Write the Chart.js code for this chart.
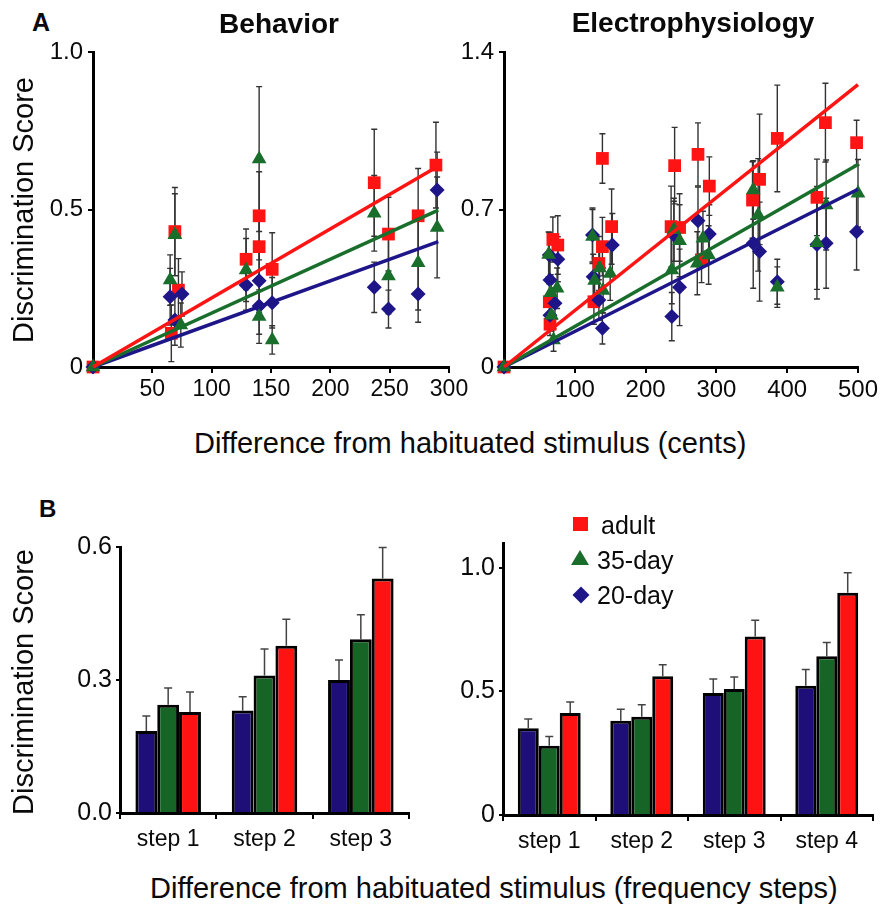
<!DOCTYPE html>
<html>
<head>
<meta charset="utf-8">
<script src="https://cdn.jsdelivr.net/npm/chart.js"></script>
<style>
body { margin: 0; background: #fff; width: 880px; height: 905px; position: relative; overflow: hidden; font-family: "Liberation Sans", Arial, sans-serif; color: #0a0a0a; }
.box { position: absolute; }
.txt { position: absolute; white-space: nowrap; }
</style>
</head>
<body>
<script>
// behaviour panel: [cents, score, sem]
const behAdult = [[0,0,0],[66,0.107,0.09],[69,0.43,0.14],[72,0.244,0.1],[129,0.342,0.096],[140,0.48,0.14],[140,0.382,0.1],[151,0.31,0.116],[237,0.585,0.17],[249,0.422,0.117],[274,0.48,0.15],[289,0.641,0.136]]
const beh35 = [[0,0,0],[65,0.276,0.08],[69,0.42,0.13],[74,0.133,0.07],[129,0.308,0.1],[140,0.66,0.23],[140,0.16,0.085],[151,0.086,0.045],[237,0.488,0.12],[249,0.289,0.12],[274,0.331,0.15],[290,0.443,0.16]]
const beh20 = [[0,0,0],[65,0.223,0.09],[69,0.149,0.08],[75,0.232,0.07],[129,0.26,0.08],[140,0.274,0.1],[140,0.194,0.09],[151,0.204,0.08],[237,0.253,0.08],[249,0.184,0.06],[274,0.232,0.09],[290,0.562,0.12]]
const behFitAdult = [[0,0],[290,0.636]]
const behFit35 = [[0,0],[291,0.498]]
const behFit20 = [[0,0],[291,0.398]]

// electrophysiology panel
const elecAdult = [[0,0,0],[65,0.19,0.05],[64,0.29,0.08],[69,0.567,0.1],[76,0.542,0.13],[127,0.29,0.1],[134,0.46,0.12],[139,0.927,0.11],[139,0.535,0.13],[152,0.624,0.167],[236,0.624,0.18],[241,0.895,0.17],[248,0.62,0.15],[274,0.945,0.14],[279,0.475,0.1],[290,0.804,0.13],[351,0.742,0.17],[361,0.834,0.29],[386,1.016,0.237],[442,0.754,0.17],[454,1.086,0.175],[498,0.997,0.1]]
const elec35 = [[0,0,0],[63,0.5,0.1],[66,0.33,0.08],[67,0.23,0.07],[70,0.12,0.05],[75,0.35,0.09],[125,0.58,0.12],[128,0.385,0.1],[135,0.44,0.11],[140,0.34,0.1],[150,0.416,0.12],[237,0.431,0.15],[240,0.61,0.14],[248,0.561,0.16],[273,0.461,0.14],[281,0.572,0.12],[289,0.498,0.13],[352,0.787,0.13],[359,0.676,0.25],[386,0.355,0.09],[442,0.552,0.25],[455,0.72,0.2],[500,0.772,0.15]]
const elec20 = [[0,0,0],[64,0.498,0.1],[65,0.387,0.09],[65,0.23,0.06],[72,0.283,0.07],[76,0.479,0.1],[125,0.587,0.12],[126,0.401,0.1],[134,0.298,0.09],[139,0.172,0.07],[153,0.542,0.14],[237,0.224,0.107],[240,0.587,0.15],[248,0.354,0.17],[274,0.65,0.15],[290,0.591,0.13],[352,0.55,0.2],[361,0.513,0.22],[386,0.379,0.1],[442,0.545,0.2],[455,0.55,0.2],[498,0.601,0.17]]
const elecFitAdult = [[0,0],[500,1.255]]
const elecFit35 = [[0,0],[500,0.9]]
const elecFit20 = [[0,0],[500,0.79]]

// bar panels
const stepsBeh = ["step 1", "step 2", "step 3"]
const barBeh20 = [0.185, 0.231, 0.30]
const barBeh20Err = [0.034, 0.031, 0.045]
const barBeh35 = [0.244, 0.31, 0.392]
const barBeh35Err = [0.038, 0.06, 0.055]
const barBehAdult = [0.228, 0.377, 0.529]
const barBehAdultErr = [0.045, 0.06, 0.07]

const stepsElec = ["step 1", "step 2", "step 3", "step 4"]
const barElec20 = [0.351, 0.381, 0.493, 0.523]
const barElec20Err = [0.037, 0.047, 0.057, 0.065]
const barElec35 = [0.28, 0.397, 0.51, 0.642]
const barElec35Err = [0.037, 0.049, 0.048, 0.056]
const barElecAdult = [0.412, 0.561, 0.722, 0.899]
const barElecAdultErr = [0.045, 0.047, 0.066, 0.081]

// axis ticks
const behXTicks = [50, 100, 150, 200, 250, 300]
const behYTicks = [0, 0.5, 1.0]
const behYLabels = ["0", "0.5", "1.0"]
const elecXTicks = [100, 200, 300, 400, 500]
const elecYTicks = [0, 0.7, 1.4]
const elecYLabels = ["0", "0.7", "1.4"]
const barBehYTicks = [0, 0.3, 0.6]
const barBehYLabels = ["0.0", "0.3", "0.6"]
const barElecYTicks = [0, 0.5, 1.0]
const barElecYLabels = ["0", "0.5", "1.0"]

const FONT = "'Liberation Sans', Arial, sans-serif"
const INK = "#0a0a0a"
const RED = "#ff1414"
const GREEN = "#1a6e2c"
const BLUE = "#1e1688"
const BAR_RED = "#ff1212"
const BAR_GREEN = "#176526"
const BAR_BLUE = "#1e0f78"

Chart.defaults.animation = false

// error bars drawn under the marks, from the library's y scale
const errorBars = {
    id: "errorBars",
    beforeDatasetsDraw(chart) {
        const ctx = chart.ctx
        const ys = chart.scales.y
        ctx.save()
        chart.data.datasets.forEach((ds, i) => {
            if (!ds.errs) return
            const meta = chart.getDatasetMeta(i)
            ctx.strokeStyle = ds.errColor
            ctx.lineWidth = ds.errWidth
            meta.data.forEach((el, j) => {
                const e = ds.errs[j]
                if (!e) return
                const v = meta.controller.getParsed(j).y
                const top = ys.getPixelForValue(v + e)
                const bot = ds.upOnly ? el.y : ys.getPixelForValue(v - e)
                const w = ds.capHalf
                ctx.beginPath()
                ctx.moveTo(el.x, bot)
                ctx.lineTo(el.x, top)
                ctx.moveTo(el.x - w, top)
                ctx.lineTo(el.x + w, top)
                if (!ds.upOnly) {
                    ctx.moveTo(el.x - w, bot)
                    ctx.lineTo(el.x + w, bot)
                }
                ctx.stroke()
            })
        })
        ctx.restore()
    }
}

function holder(area, m) {
    const d = document.createElement("div")
    d.className = "box"
    d.style.left = (area.left - m.l) + "px"
    d.style.top = (area.top - m.t) + "px"
    const c = document.createElement("canvas")
    c.width = area.right - area.left + m.l + m.r
    c.height = area.bottom - area.top + m.t + m.b
    d.appendChild(c)
    document.body.appendChild(d)
    return c
}

function yAxis(max, ticks, labels, w, size, tl, pad) {
    return {
        min: 0, max: max,
        afterBuildTicks: s => { s.ticks = ticks.map(v => ({ value: v })) },
        afterFit: s => { s.width = w; s.paddingTop = 0; s.paddingBottom = 0 },
        border: { display: true, color: "#000", width: 3 },
        grid: { drawOnChartArea: false, tickLength: tl, color: "#000", lineWidth: 2 },
        ticks: { color: INK, padding: pad, font: { family: FONT, size: size }, callback: (v, i) => labels[i] }
    }
}

function xLinear(max, ticks, h, size) {
    return {
        type: "linear", min: 0, max: max,
        afterBuildTicks: s => { s.ticks = ticks.map(v => ({ value: v })) },
        afterFit: s => { s.height = h; s.paddingLeft = 0; s.paddingRight = 0 },
        border: { display: true, color: "#000", width: 3 },
        grid: { drawOnChartArea: false, tickLength: 6, color: "#000", lineWidth: 2 },
        ticks: { color: INK, padding: 3, maxRotation: 0, autoSkip: false, font: { family: FONT, size: size }, callback: v => String(v) }
    }
}

function xCat(h, size) {
    return {
        type: "category", offset: true,
        afterFit: s => { s.height = h; s.paddingLeft = 0; s.paddingRight = 0 },
        border: { display: true, color: "#000", width: 3 },
        grid: { offset: true, drawOnChartArea: false, tickLength: 6, color: "#000", lineWidth: 2 },
        ticks: { color: INK, padding: 7, maxRotation: 0, autoSkip: false, font: { family: FONT, size: size } }
    }
}

function pts(rows, style, r, color, order) {
    return {
        type: "scatter",
        data: rows.map(p => ({ x: p[0], y: p[1] })),
        errs: rows.map(p => p[2]),
        errColor: "#333", errWidth: 1.4, capHalf: 3,
        pointStyle: style, pointRadius: r, pointHoverRadius: r,
        backgroundColor: color, borderColor: color, borderWidth: 0,
        order: order, clip: false
    }
}

function fit(rows, color) {
    return {
        type: "line",
        data: rows.map(p => ({ x: p[0], y: p[1] })),
        borderColor: color, borderWidth: 3.5,
        pointRadius: 0, fill: false, order: 0, clip: false
    }
}

function bars(vals, errs, color) {
    return {
        data: vals, errs: errs, upOnly: true,
        errColor: "#444", errWidth: 1.5, capHalf: 4,
        backgroundColor: color, borderColor: "#000", borderWidth: 3,
        categoryPercentage: 0.68, barPercentage: 1.0
    }
}

function scatterChart(area, m, xMax, xTicks, xSize, yMax, yTicks, yLabels, adult, d35, d20, fits) {
    new Chart(holder(area, m), {
        type: "scatter",
        data: {
            datasets: [
                fit(fits[0], RED), fit(fits[1], GREEN), fit(fits[2], BLUE),
                pts(d35, "triangle", 8.5, GREEN, 1),
                pts(d20, "rectRot", 7.5, BLUE, 2),
                pts(adult, "rect", 9, RED, 3)
            ]
        },
        options: {
            responsive: false,
            layout: { padding: { top: m.t, right: m.r, left: 0, bottom: 0 } },
            plugins: { legend: { display: false }, tooltip: { enabled: false } },
            scales: {
                x: xLinear(xMax, xTicks, m.b, xSize),
                y: yAxis(yMax, yTicks, yLabels, m.l, 24, 5, 5)
            }
        },
        plugins: [errorBars]
    })
}

function barChart(area, m, steps, yMax, yTicks, yLabels, sets) {
    new Chart(holder(area, m), {
        type: "bar",
        data: { labels: steps, datasets: sets },
        options: {
            responsive: false,
            layout: { padding: { top: m.t, right: m.r, left: 0, bottom: 0 } },
            plugins: { legend: { display: false }, tooltip: { enabled: false } },
            scales: {
                x: xCat(m.b, 23),
                y: yAxis(yMax, yTicks, yLabels, m.l, 25, 4, 4)
            }
        },
        plugins: [errorBars]
    })
}

scatterChart({ left: 93, top: 52, right: 449, bottom: 367 }, { l: 93, t: 14, r: 24, b: 42 },
    300, behXTicks, 23, 1.0, behYTicks, behYLabels, behAdult, beh35, beh20, [behFitAdult, behFit35, behFit20])

scatterChart({ left: 504, top: 52, right: 858, bottom: 367 }, { l: 70, t: 14, r: 22, b: 42 },
    500, elecXTicks, 24, 1.4, elecYTicks, elecYLabels, elecAdult, elec35, elec20, [elecFitAdult, elecFit35, elecFit20])

barChart({ left: 120, top: 547, right: 409, bottom: 813 }, { l: 90, t: 14, r: 10, b: 44 },
    stepsBeh, 0.6, barBehYTicks, barBehYLabels,
    [bars(barBeh20, barBeh20Err, BAR_BLUE), bars(barBeh35, barBeh35Err, BAR_GREEN), bars(barBehAdult, barBehAdultErr, BAR_RED)])

barChart({ left: 503, top: 543, right: 873, bottom: 815 }, { l: 70, t: 14, r: 7, b: 44 },
    stepsElec, 1.1, barElecYTicks, barElecYLabels,
    [bars(barElec20, barElec20Err, BAR_BLUE), bars(barElec35, barElec35Err, BAR_GREEN), bars(barElecAdult, barElecAdultErr, BAR_RED)])

// text around the panels
function text(t, x, yc, size, bold, center) {
    const d = document.createElement("div")
    d.className = "txt"
    d.textContent = t
    d.style.fontSize = size + "px"
    d.style.lineHeight = size + "px"
    d.style.fontWeight = bold ? "bold" : "normal"
    d.style.left = x + "px"
    d.style.top = (yc - 0.49 * size) + "px"
    if (center) d.style.transform = "translateX(-50%)"
    document.body.appendChild(d)
}

function vtext(t, cx, cy, size) {
    const d = document.createElement("div")
    d.className = "txt"
    d.textContent = t
    d.style.fontSize = size + "px"
    d.style.lineHeight = size + "px"
    d.style.left = cx + "px"
    d.style.top = cy + "px"
    d.style.transform = "translate(-50%, -50%) rotate(-90deg)"
    document.body.appendChild(d)
}

text("A", 32, 22.5, 25, true, false)
text("Behavior", 279, 24, 28, true, true)
text("Electrophysiology", 693, 22.5, 28, true, true)
vtext("Discrimination Score", 23, 210, 29)
text("Difference from habituated stimulus (cents)", 194, 443, 29, false, false)
text("B", 39, 509, 24, true, false)
vtext("Discrimination Score", 23, 682, 29)
text("Difference from habituated stimulus (frequency steps)", 150, 888, 29, false, false)

// legend
function marker(css) {
    const d = document.createElement("div")
    d.className = "box"
    Object.assign(d.style, css)
    document.body.appendChild(d)
}
marker({ left: "573px", top: "517px", width: "15px", height: "14px", background: RED })
marker({ left: "571px", top: "550px", width: "0", height: "0", borderLeft: "9px solid transparent", borderRight: "9px solid transparent", borderBottom: "15px solid " + GREEN })
marker({ left: "575px", top: "589px", width: "12px", height: "12px", background: BLUE, transform: "rotate(45deg)" })
text("adult", 601, 525, 25, false, false)
text("35-day", 597, 560, 25, false, false)
text("20-day", 597, 595, 25, false, false)
</script>
</body>
</html>
